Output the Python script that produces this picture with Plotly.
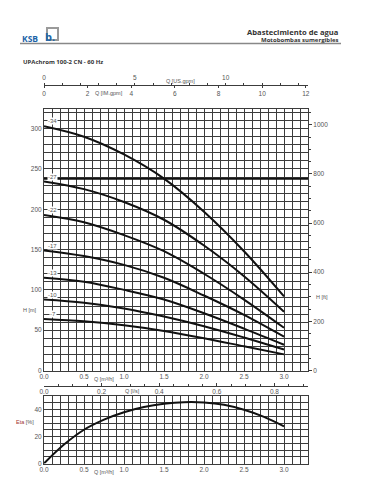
import plotly.graph_objects as go

# page body has an 8px margin: the figure is drawn from (8, 8)
OFF = 8
W, H = 352, 484

# ---------------- data ----------------
q_pts = [0.0, 0.5, 1.0, 1.5, 2.0, 2.5, 3.0]  # Q [m3/h]
stage_labels = ["-34", "-27", "-22", "-17", "-13", "-10", "-7"]
h_34 = [303, 290, 268, 238, 197, 148, 92]
h_27 = [234.5, 225, 209, 187, 155, 117, 73]
h_22 = [193, 184, 168, 148, 120, 88, 53]
h_17 = [149, 142, 131, 115, 93, 69, 42]
h_13 = [115, 110, 100, 88, 71, 52, 32]
h_10 = [88, 84, 77, 67, 55, 41, 26]
h_7 = [64, 61, 56, 49, 40, 30, 20]
head_curves = [h_34, h_27, h_22, h_17, h_13, h_10, h_7]
ref_head = 238  # horizontal line [m]

q_eta = [0.0, 0.25, 0.5, 0.75, 1.0, 1.25, 1.5, 1.75, 2.0, 2.25, 2.5, 2.75, 3.0]
eta = [0, 14, 25, 32.5, 38, 41.8, 44.2, 45.4, 45.2, 43.5, 39.8, 34.5, 27.5]

Q_MAX = 3.3      # m3/h
H_MAX = 325      # m
ETA_MAX = 50     # %
M_TO_FT = 1 / 0.3048
M3H_PER_LS = 3.6
M3H_PER_USGPM = 0.227125
M3H_PER_IMGPM = 0.272765

# ---------------- layout helpers (page pixels -> paper) ----------------
def px(x):
    return (x - OFF) / W

def py(y):
    return 1 - (y - OFF) / H

GRID = "#3c3c3c"
TXT = "#555555"
FONT = "Liberation Sans"
TF = dict(family=FONT, size=6.5, color=TXT)

x_dom = [px(44), px(308)]
main_dom = [py(370.5), py(108.5)]
eff_dom = [py(463.5), py(396)]

fig = go.Figure()

for lab, hv in zip(stage_labels, head_curves):
    fig.add_trace(go.Scatter(x=q_pts, y=hv, mode="lines", line=dict(color="#111", width=2, shape="spline"),
                             xaxis="x", yaxis="y", hoverinfo="skip", showlegend=False))

fig.add_trace(go.Scatter(x=q_eta, y=eta, mode="lines", line=dict(color="#111", width=2, shape="spline"),
                         xaxis="x5", yaxis="y3", hoverinfo="skip", showlegend=False))

# invisible helper traces so that the secondary scales are drawn
q_scale_ends = [0, Q_MAX]
for xa, ya, conv_x in [("x", "y2", 1), ("x2", "y", 1 / M3H_PER_LS),
                       ("x3", "y", 1 / M3H_PER_USGPM), ("x4", "y", 1 / M3H_PER_IMGPM)]:
    fig.add_trace(go.Scatter(x=[v * conv_x for v in q_scale_ends], y=[0, 0], mode="lines",
                             line=dict(width=0, color="rgba(0,0,0,0)"), xaxis=xa, yaxis=ya,
                             hoverinfo="skip", showlegend=False))

fig.add_shape(type="line", xref="x domain", yref="y", x0=0, x1=1, y0=ref_head, y1=ref_head,
              line=dict(color="#111", width=2))

common_grid = dict(showgrid=True, gridcolor=GRID, gridwidth=1, zeroline=False, automargin=False,
                   showline=True, linecolor=GRID, linewidth=1, mirror=True)

layout = dict(
    width=W, height=H, margin=dict(l=0, r=0, t=0, b=0, autoexpand=False),
    paper_bgcolor="white", plot_bgcolor="white",
    font=dict(family=FONT, color=TXT),
    xaxis=dict(domain=x_dom, range=[0, Q_MAX], anchor="y", dtick=0.5, tickformat=".1f",
               tickfont=TF, ticks="", minor=dict(dtick=0.1, showgrid=True, gridcolor=GRID, gridwidth=1),
               **common_grid),
    yaxis=dict(domain=main_dom, range=[0, H_MAX], anchor="x", dtick=50, tickfont=TF, ticks="",
               minor=dict(dtick=10, showgrid=True, gridcolor=GRID, gridwidth=1), **common_grid),
    yaxis2=dict(overlaying="y", side="right", anchor="x", range=[0, H_MAX * M_TO_FT], dtick=200,
                tickfont=TF, ticks="outside", ticklen=3, tickcolor=GRID, showgrid=False, zeroline=False,
                automargin=False,
                minor=dict(dtick=50, ticks="outside", ticklen=2, tickcolor=GRID)),
    xaxis2=dict(overlaying="x", anchor="free", position=py(385.5), side="bottom", domain=x_dom,
                range=[0, Q_MAX / M3H_PER_LS], dtick=0.2, tickformat=".1f", tickfont=TF,
                showline=True, linecolor=GRID, linewidth=1, showgrid=False, zeroline=False,
                ticks="inside", ticklen=3, tickcolor=GRID, automargin=False,
                minor=dict(dtick=0.05, ticks="inside", ticklen=2, tickcolor=GRID)),
    xaxis3=dict(overlaying="x", anchor="free", position=py(85), side="top", domain=x_dom,
                range=[0, Q_MAX / M3H_PER_USGPM], dtick=5, tickfont=TF,
                showline=True, linecolor=GRID, linewidth=1, showgrid=False, zeroline=False,
                ticks="outside", ticklen=2, tickcolor=GRID, automargin=False,
                minor=dict(dtick=1, ticks="outside", ticklen=2, tickcolor=GRID)),
    xaxis4=dict(overlaying="x", anchor="free", position=py(85), side="bottom", domain=x_dom,
                range=[0, Q_MAX / M3H_PER_IMGPM], dtick=2, tickfont=TF,
                showline=False, showgrid=False, zeroline=False, automargin=False,
                ticks="outside", ticklen=2, tickcolor=GRID),
    xaxis5=dict(domain=x_dom, range=[0, Q_MAX], anchor="y3", dtick=0.5, tickformat=".1f",
                tickfont=TF, ticks="", minor=dict(dtick=0.1, showgrid=True, gridcolor=GRID, gridwidth=1),
                **common_grid),
    yaxis3=dict(domain=eff_dom, range=[0, ETA_MAX], anchor="x5", dtick=20, tickfont=TF, ticks="",
                minor=dict(dtick=5, showgrid=True, gridcolor=GRID, gridwidth=1), **common_grid),
)
fig.update_layout(**layout)

ann = []

def text(x, y, s, size=6.5, color=TXT, anchor="center", bold=False, family=FONT):
    if bold:
        s = "<b>" + s + "</b>"
    ann.append(dict(x=px(x), y=py(y), xref="paper", yref="paper", text=s, showarrow=False,
                    xanchor=anchor, yanchor="middle", font=dict(family=family, size=size, color=color)))

# header
text(341, 32.3, "Abastecimiento de agua", size=7.6, color="#333", anchor="right", bold=True, family="Open Sans")
text(341, 40, "Motobombas sumergibles", size=6, color="#333", anchor="right", bold=True, family="Open Sans")
text(21, 62.3, "UPAchrom 100-2 CN - 60 Hz", size=6, color="#333", anchor="left", bold=True, family="Open Sans")
text(20, 38.5, "KSB", size=8.5, color="#1c64a8", anchor="left", bold=True, family="Open Sans")
text(50, 36.5, "b.", size=11, color="#1c64a8", anchor="center", bold=True, family="Open Sans")

# axis titles
text(180, 80.5, "Q [US.gpm]", size=5.5)
text(109, 93, "Q [IM.gpm]", size=5.5)
text(104, 379, "Q [m³/h]", size=5.5)
text(132, 390.5, "Q [l/s]", size=5.5)
text(30, 310, "H [m]", size=5.5)
text(314, 297, "H [ft]", anchor="left", size=5.5)
text(104, 472, "Q [m³/h]", size=5.5)
ann.append(dict(x=px(25), y=py(422.3), xref="paper", yref="paper", showarrow=False,
                text="<span style='color:#a03030'>Eta</span> [%]", xanchor="center", yanchor="middle",
                font=dict(family=FONT, size=5.5, color=TXT)))

# stage labels (placed next to curve starts, data coordinates)
for lab, hv in zip(stage_labels, head_curves):
    ann.append(dict(x=0.11, y=hv[0] + 6, xref="x", yref="y", text=lab, showarrow=False,
                    xanchor="center", yanchor="middle", bgcolor="white", borderpad=0,
                    font=dict(family=FONT, size=6, color=TXT)))

fig.update_layout(annotations=ann)

# header line and logo box
fig.add_shape(type="line", xref="paper", yref="paper", x0=px(20), x1=px(341), y0=py(43.5), y1=py(43.5),
              line=dict(color="#888", width=1.5))
fig.add_shape(type="rect", xref="paper", yref="paper", x0=px(47), x1=px(58), y0=py(40), y1=py(28),
              line=dict(color="#9a9a9a", width=2))

fig.write_html("out.html")
